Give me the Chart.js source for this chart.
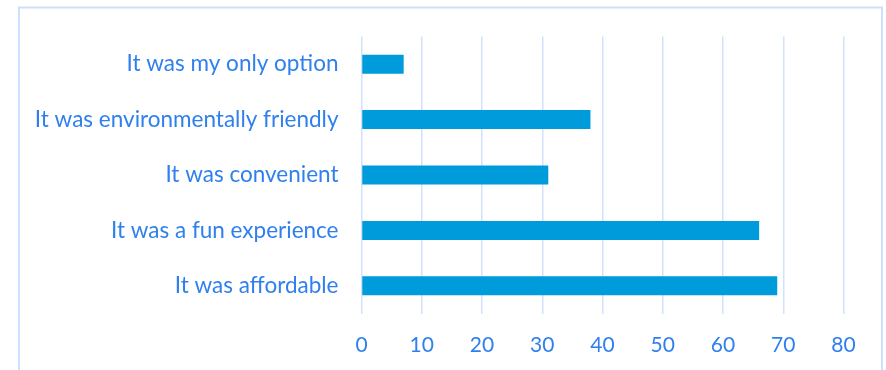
<!DOCTYPE html>
<html>
<head>
<meta charset="utf-8">
<script src="https://cdn.jsdelivr.net/npm/chart.js@4/dist/chart.umd.min.js"></script>
<style>
  html, body { margin: 0; padding: 0; background: #ffffff; }
  #wrap { width: 886px; height: 370px; position: relative; }
</style>
</head>
<body>
<div id="wrap"><canvas id="chart" width="886" height="370"></canvas></div>
<script>
// Survey reasons, listed top to bottom
const categories = [
  'It was my only option',
  'It was environmentally friendly',
  'It was convenient',
  'It was a fun experience',
  'It was affordable'
];
const responses = [7, 38, 31, 66, 69];
const xTicks = [0, 10, 20, 30, 40, 50, 60, 70, 80];

const textColor = '#2f80ee';
const gridColor = '#d3e2fb';
const barColor = '#009bdb';
const fontFamily = 'Lato, "Open Sans", sans-serif';

// Light frame drawn around the whole chart area
const framePlugin = {
  id: 'frame',
  beforeDraw(chart) {
    const ctx = chart.ctx;
    ctx.save();
    ctx.fillStyle = '#ffffff';
    ctx.fillRect(0, 0, chart.width, chart.height);
    ctx.strokeStyle = '#cfe0fc';
    ctx.lineWidth = 2;
    ctx.strokeRect(19, 7.5, 863, 400);
    ctx.restore();
  }
};

new Chart(document.getElementById('chart'), {
  type: 'bar',
  data: {
    labels: categories,
    datasets: [{
      data: responses,
      backgroundColor: barColor,
      borderWidth: 0,
      barPercentage: 0.343,
      categoryPercentage: 1
    }]
  },
  options: {
    indexAxis: 'y',
    responsive: false,
    animation: false,
    devicePixelRatio: 1,
    layout: { padding: { left: 0, right: 42.5, top: 36.5, bottom: 0 } },
    plugins: { legend: { display: false }, tooltip: { enabled: false } },
    scales: {
      x: {
        min: 0,
        max: 80,
        afterBuildTicks(scale) { scale.ticks = xTicks.map(v => ({ value: v })); },
        afterFit(scale) { scale.height = 370 - 36.5 - 277; },
        grid: { color: gridColor, lineWidth: 1.5, drawTicks: false },
        border: { display: false },
        ticks: {
          color: textColor,
          padding: 19,
          font: { family: fontFamily, size: 21 }
        }
      },
      y: {
        afterFit(scale) { scale.width = 361.5; },
        grid: { display: false, drawTicks: false },
        border: { display: false },
        ticks: {
          color: textColor,
          padding: 23,
          font: { family: fontFamily, size: 22.5 }
        }
      }
    }
  },
  plugins: [framePlugin]
});
</script>
</body>
</html>
